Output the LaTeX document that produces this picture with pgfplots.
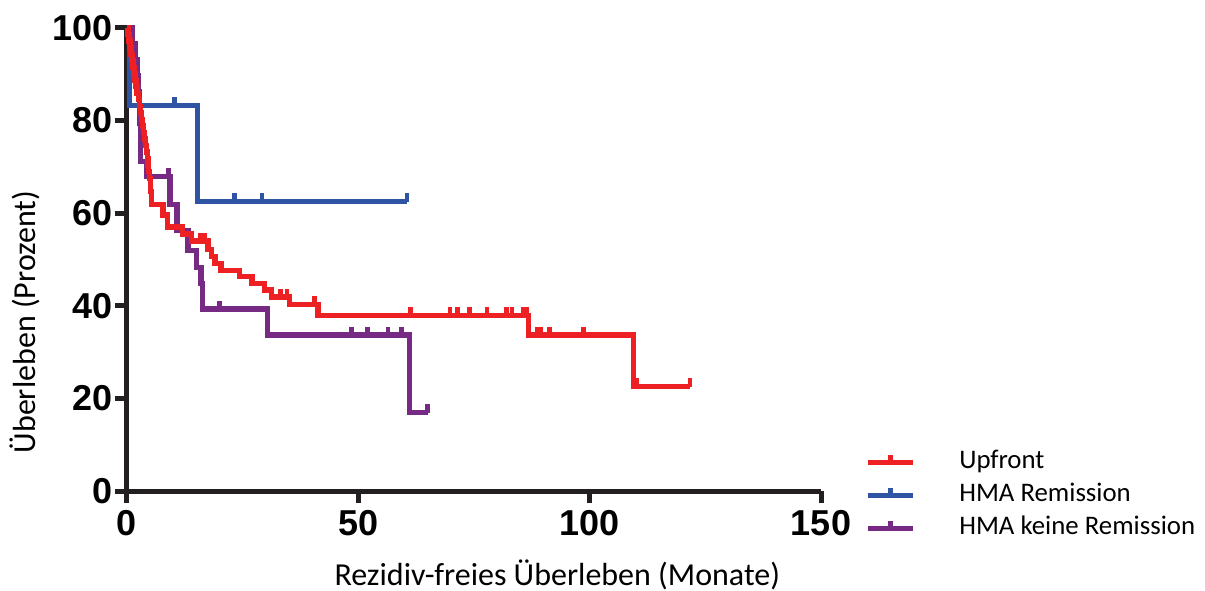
\documentclass[border=0pt]{standalone}
\usepackage{fontspec}
\setmainfont{Carlito}
\newfontfamily\tickfont{Liberation Sans}
\usepackage{pgfplots}
\pgfplotsset{compat=1.18}

\definecolor{kmred}{RGB}{237,32,36}
\definecolor{kmblue}{RGB}{47,84,163}
\definecolor{kmpurple}{RGB}{118,42,131}
\definecolor{axisblack}{RGB}{35,31,32}

% censoring mark: short upward tick from the curve
\pgfdeclareplotmark{cens}{%
  \pgfpathmoveto{\pgfpointorigin}%
  \pgfpathlineto{\pgfpoint{0pt}{\pgfplotmarksize}}%
  \pgfusepathqstroke}

\pgfplotsset{
  km/.style={const plot, no marks, line width=2.6bp, line join=miter},
  censored/.style={only marks, mark=cens, mark size=4.2bp,
    mark options={line width=2.4bp, solid}},
}

\begin{document}
\begin{tikzpicture}
\useasboundingbox (-63.5bp,-50bp) rectangle (539bp,245.5bp);
\begin{axis}[
  width=347bp, height=231.5bp, scale only axis,
  xmin=0, xmax=150, ymin=0, ymax=100,
  axis lines=left,
  axis line style={-, line width=2.5bp, color=axisblack},
  xtick={0,50,100,150}, ytick={0,20,40,60,80,100},
  tick align=outside, major tick length=6bp,
  tick style={line width=2.5bp, color=axisblack},
  ticklabel style={font=\tickfont\bfseries\fontsize{18bp}{21bp}\selectfont},
  yticklabel style={inner sep=1.2bp},
  /pgf/number format/assume math mode=true,
  xlabel={Rezidiv-freies Überleben (Monate)},
  ylabel={Überleben (Prozent)},
  label style={font=\fontsize{16bp}{19bp}\selectfont},
  xlabel style={at={(axis description cs:0.62,-0.181)}, anchor=center},
  ylabel style={at={(axis description cs:-0.147,0.365)}, anchor=center},
  clip=false,
  legend cell align=left,
  legend image code/.code={%
    \draw[#1] (0bp,0bp) -- (22.5bp,0bp);
    \draw[#1] (11.25bp,0bp) -- (11.25bp,3.5bp);},
  legend style={at={(axis description cs:1.063,0.089)}, anchor=north west,
    draw=none, fill=none, inner sep=0pt,
    font=\fontsize{13.4bp}{16bp}\selectfont,
    column sep=22bp, row sep=4.5bp,
    nodes={inner sep=0pt, text height=9bp, text depth=3bp}},
]

% HMA Remission
\addplot[km, kmblue, forget plot] coordinates {
  (0,100) (0.5,83.3) (15.3,62.5) (60.5,62.5)};
\addplot[censored, kmblue, forget plot] coordinates {
  (10.2,83.3) (23.3,62.5) (29.2,62.5) (60.5,62.5)};

% HMA keine Remission
\addplot[km, kmpurple, forget plot] coordinates {
  (0,100) (1.2,96.6) (1.8,93.1) (2.2,89.7) (2.5,86.2) (2.7,82.8)
  (2.8,79.3) (2.9,71.2) (4.3,68.0) (9.3,61.8) (10.8,56.2) (13.2,52.0)
  (15.0,48.3) (16.0,44.8) (16.4,39.3) (30.3,33.7) (61.0,16.9) (65.0,16.9)};
\addplot[censored, kmpurple, forget plot] coordinates {
  (8.9,68.0) (20.0,39.3) (48.6,33.7) (52.0,33.7) (56.4,33.7) (59.4,33.7)
  (65.0,16.9)};

% Upfront
\addplot[km, kmred, forget plot] coordinates {
  (0,100) (0.2,98.59) (0.42,97.18) (0.64,95.77) (0.86,94.36) (1.08,92.95)
  (1.3,91.54) (1.52,90.13) (1.74,88.72) (1.96,87.31) (2.18,85.9)
  (2.4,84.49) (2.62,83.08) (2.84,81.67) (3.06,80.26) (3.28,78.85)
  (3.5,77.44) (3.72,76.03) (3.94,74.62) (4.16,73.21) (4.38,71.8)
  (4.55,70.39) (4.7,68.98) (4.85,67.57) (5.0,66.16) (5.15,64.75)
  (5.25,63.34) (5.35,61.8) (7.8,59.6) (8.8,57.0) (12.0,55.5) (14.0,54.0)
  (17.5,52.2) (18.3,50.7) (19.0,49.2) (20.3,47.7) (24.4,46.3) (27.0,44.9)
  (29.8,43.4) (31.3,41.9) (35.2,40.3) (41.3,37.9) (86.7,33.7)
  (109.4,22.5) (121.7,22.5)};
\addplot[censored, kmred, forget plot] coordinates {
  (15.8,54.0) (16.8,54.0) (33.1,41.9) (34.6,41.9) (40.5,40.3)
  (61.2,37.9) (69.8,37.9) (71.5,37.9) (74.1,37.9) (77.8,37.9) (82.1,37.9)
  (83.2,37.9) (85.6,37.9) (86.4,37.9) (88.6,33.7) (89.3,33.7) (91.4,33.7)
  (98.6,33.7) (110.2,22.5) (121.7,22.5)};

\addlegendimage{kmred, line width=2.6bp}
\addlegendentry{Upfront}
\addlegendimage{kmblue, line width=2.6bp}
\addlegendentry{HMA Remission}
\addlegendimage{kmpurple, line width=2.6bp}
\addlegendentry{HMA keine Remission}
\end{axis}
\end{tikzpicture}
\end{document}
